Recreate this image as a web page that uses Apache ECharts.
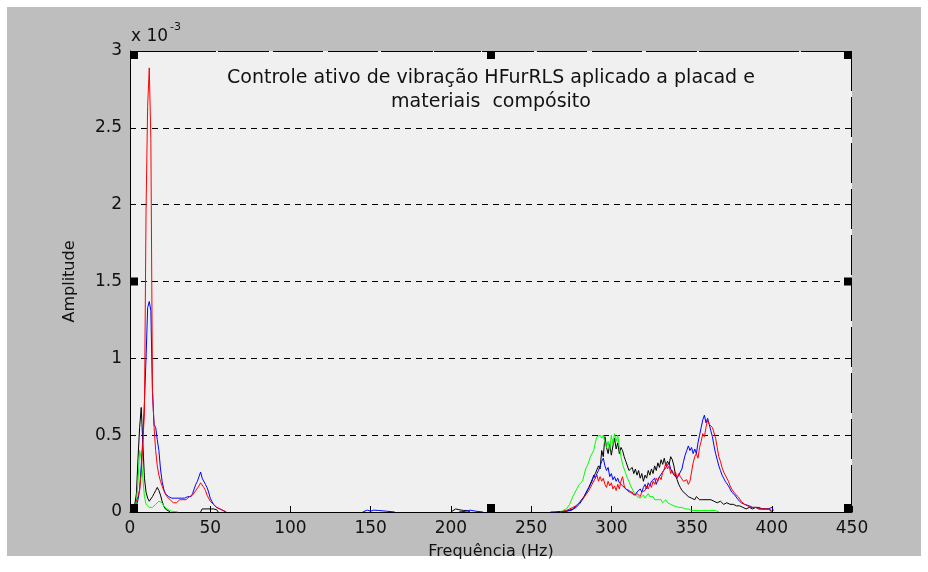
<!DOCTYPE html>
<html>
<head>
<meta charset="utf-8">
<script src="https://cdn.jsdelivr.net/npm/echarts@6/dist/echarts.min.js"></script>
<style>
html,body{margin:0;padding:0;background:#ffffff;width:928px;height:572px;overflow:hidden;}
#bg{position:absolute;left:7px;top:7px;width:914px;height:549px;background:#bebebe;}
#chart{position:absolute;left:0;top:0;width:928px;height:572px;}
</style>
</head>
<body>
<div id="bg"></div>
<div id="chart"></div>
<script>
// Values in units of 1e-3 (axis shows "x 10^-3")
const titleLines = ['Controle ativo de vibração HFurRLS aplicado a placad e', 'materiais  compósito'];
const xName = 'Frequência (Hz)';
const yName = 'Amplitude';
const xTicks = [0, 50, 100, 150, 200, 250, 300, 350, 400, 450];
const yTicks = [0, 0.5, 1, 1.5, 2, 2.5, 3];

const redFreq = [0,1,2,3,4,5,6,7,8,9,10,11,12,13,14,15,16,17,18,19,20,21,22,23,24,25,26,27,28,29,30,31,32,33,34,35,36,37,38,39,40,41,42,43,44,45,46,47,48,49,50,51,52,53,54,55,56,57,58,60,
 null,
 268,270,272,274,276,278,280,282,284,286,288,290,291,292,293,294,295,296,297,298,299,300,301,302,303,304,305,306,307,308,309,310,311,312,313,314,315,316,317,318,319,320,321,322,323,324,325,326,327,328,329,330,331,332,333,334,335,336,337,338,339,340,341,342,343,344,345,346,347,348,349,350,351,352,353,354,355,356,357,358,359,360,361,362,363,364,365,366,367,368,369,370,371,372,373,374,375,376,377,378,379,380,381,382,383,384,385,386,387,388,390,392,394,396,398,400];
const redAmp = [0.02,0.03,0.04,0.05,0.07,0.1,0.14,0.25,0.45,0.65,1.96,2.64,2.89,2.43,0.8,0.55,0.4,0.3,0.24,0.2,0.17,0.14,0.12,0.1,0.09,0.08,0.07,0.06,0.07,0.06,0.07,0.08,0.07,0.08,0.09,0.08,0.09,0.1,0.1,0.11,0.12,0.14,0.15,0.17,0.19,0.18,0.16,0.14,0.11,0.09,0.07,0.06,0.05,0.04,0.03,0.02,0.02,0.01,0.01,0,
 null,
 0,0.005,0.01,0.02,0.03,0.04,0.06,0.08,0.11,0.14,0.18,0.22,0.24,0.2,0.23,0.2,0.22,0.18,0.16,0.2,0.17,0.19,0.15,0.17,0.14,0.18,0.15,0.2,0.23,0.17,0.15,0.14,0.13,0.12,0.13,0.11,0.1,0.12,0.11,0.1,0.13,0.12,0.14,0.17,0.15,0.18,0.16,0.2,0.18,0.22,0.2,0.23,0.21,0.26,0.28,0.32,0.28,0.3,0.25,0.27,0.24,0.26,0.22,0.25,0.23,0.24,0.2,0.19,0.21,0.18,0.2,0.26,0.32,0.36,0.38,0.35,0.42,0.46,0.51,0.49,0.55,0.6,0.57,0.58,0.55,0.56,0.48,0.42,0.36,0.33,0.29,0.26,0.24,0.22,0.2,0.17,0.15,0.14,0.12,0.11,0.1,0.09,0.07,0.06,0.05,0.05,0.04,0.04,0.03,0.03,0.03,0.02,0.02,0.02,0.02,0.01];

const blueFreq = [0,2,4,5,6,7,8,9,10,11,12,13,14,15,16,17,18,19,20,21,22,23,24,25,26,27,28,29,30,31,32,33,34,35,36,37,38,39,40,41,42,43,44,45,46,47,48,49,50,51,52,53,54,55,56,58,60,
 null,
 145,148,150,152,155,160,165,
 null,
 205,210,212,215,220,
 null,
 262,270,275,278,280,282,284,286,288,289,290,291,292,293,294,295,296,297,298,299,300,301,302,303,304,305,306,307,308,309,310,311,312,313,314,315,316,317,318,319,320,321,322,323,324,325,326,327,328,329,330,331,332,333,334,335,336,337,338,339,340,341,342,343,344,345,346,347,348,349,350,351,352,353,354,355,356,357,358,359,360,361,362,363,364,365,366,367,368,369,370,371,372,373,374,375,376,377,378,379,380,381,382,383,384,386,388,390,392,394,396,398,400,401];
const blueAmp = [0.01,0.02,0.04,0.08,0.15,0.3,0.48,0.72,1.0,1.33,1.37,1.31,0.78,0.57,0.55,0.47,0.4,0.28,0.2,0.15,0.12,0.11,0.1,0.11,0.09,0.1,0.09,0.08,0.09,0.08,0.09,0.08,0.09,0.08,0.1,0.09,0.1,0.12,0.15,0.18,0.2,0.23,0.26,0.22,0.21,0.18,0.16,0.13,0.09,0.07,0.05,0.04,0.03,0.02,0.02,0.01,0,
 null,
 0,0.012,0.005,0.012,0.01,0.005,0,
 null,
 0,0.006,0.012,0.006,0,
 null,
 0,0.003,0.01,0.03,0.05,0.08,0.12,0.16,0.2,0.24,0.22,0.25,0.27,0.3,0.33,0.35,0.3,0.27,0.29,0.23,0.25,0.21,0.23,0.2,0.22,0.19,0.2,0.17,0.18,0.15,0.16,0.14,0.13,0.12,0.12,0.11,0.13,0.12,0.15,0.13,0.16,0.18,0.15,0.19,0.17,0.2,0.19,0.22,0.18,0.21,0.23,0.22,0.26,0.25,0.29,0.3,0.32,0.28,0.27,0.24,0.25,0.22,0.24,0.23,0.28,0.33,0.37,0.4,0.43,0.4,0.42,0.38,0.41,0.38,0.45,0.5,0.55,0.6,0.63,0.58,0.61,0.57,0.53,0.49,0.43,0.38,0.34,0.3,0.27,0.24,0.22,0.2,0.19,0.17,0.15,0.13,0.12,0.11,0.1,0.08,0.07,0.06,0.05,0.05,0.04,0.04,0.03,0.03,0.03,0.02,0.02,0.02,0.03,0.01];

const blackFreq = [0,2,3,4,5,6,7,8,9,10,11,12,13,14,15,16,17,18,19,20,21,22,23,25,
 null,
 44,45,46,50,52,54,55,
 null,
 200,203,205,208,210,212,
 null,
 266,272,276,280,283,286,288,290,292,293,294,295,296,297,298,299,300,301,302,303,304,305,306,307,308,309,310,311,312,313,314,315,316,317,318,319,320,321,322,323,324,325,326,327,328,329,330,331,332,333,334,335,336,337,338,339,340,341,342,343,344,345,346,347,348,349,350,351,352,353,354,355,356,357,358,359,360,362,364,366,368,370,372,374,376,378,380,382,384,386,388,390,392,394,396,398,399,400];
const blackAmp = [0,0.01,0.05,0.12,0.35,0.55,0.68,0.45,0.22,0.13,0.09,0.07,0.08,0.1,0.12,0.14,0.16,0.14,0.11,0.07,0.04,0.02,0.01,0,
 null,
 0,0.02,0.02,0.02,0.02,0.015,0,
 null,
 0,0.02,0.015,0.01,0.01,0,
 null,
 0,0.005,0.02,0.06,0.1,0.16,0.21,0.25,0.3,0.28,0.4,0.36,0.49,0.42,0.38,0.44,0.37,0.43,0.48,0.41,0.45,0.38,0.42,0.4,0.36,0.33,0.3,0.27,0.26,0.29,0.25,0.28,0.24,0.27,0.22,0.25,0.2,0.24,0.22,0.27,0.24,0.28,0.25,0.3,0.27,0.32,0.29,0.34,0.31,0.35,0.3,0.33,0.31,0.36,0.34,0.3,0.24,0.21,0.18,0.16,0.14,0.13,0.12,0.11,0.1,0.11,0.09,0.1,0.08,0.1,0.09,0.08,0.09,0.08,0.09,0.08,0.07,0.08,0.07,0.06,0.07,0.05,0.06,0.05,0.05,0.04,0.04,0.03,0.02,0.03,0.02,0.03,0.02,0.02,0.02,0.02,0.01,0];

const greenFreq = [0,3,4,5,6,7,8,9,10,11,12,13,14,15,16,17,18,19,20,21,22,23,24,26,30,
 null,
 268,272,274,276,278,280,282,284,285,286,287,288,289,290,291,292,293,294,295,296,297,298,299,300,301,302,303,304,305,306,307,308,309,310,311,312,313,314,315,316,317,318,319,320,321,322,323,324,325,326,327,328,329,330,331,332,333,334,335,336,337,338,339,340,342,344,346,348,350,355,360,365,367];
const greenAmp = [0,0.02,0.06,0.2,0.4,0.35,0.22,0.1,0.05,0.04,0.03,0.04,0.03,0.04,0.05,0.06,0.07,0.07,0.06,0.04,0.03,0.02,0.01,0.005,0,
 null,
 0,0.02,0.05,0.1,0.14,0.18,0.2,0.28,0.3,0.33,0.36,0.35,0.4,0.45,0.49,0.5,0.5,0.48,0.5,0.45,0.42,0.46,0.4,0.5,0.44,0.51,0.46,0.5,0.42,0.36,0.31,0.28,0.25,0.22,0.2,0.17,0.15,0.13,0.12,0.1,0.11,0.09,0.1,0.11,0.09,0.1,0.12,0.1,0.09,0.1,0.08,0.09,0.08,0.07,0.08,0.06,0.07,0.08,0.06,0.07,0.05,0.05,0.04,0.04,0.03,0.03,0.02,0.02,0.01,0.01,0.01,0.01,0];

function pairs(fs, as) {
  return fs.map((f, i) => (f === null ? [null, null] : [f, as[i]]));
}

const FONT = 'DejaVu Sans';
const chart = echarts.init(document.getElementById('chart'), null, {renderer: 'canvas'});

function mkSeries(name, fs, as, color) {
  return {
    name: name, type: 'line', xAxisIndex: 0, yAxisIndex: 0,
    data: pairs(fs, as), showSymbol: false, symbol: 'none',
    connectNulls: false, silent: true,
    lineStyle: {color: color, width: 1}, itemStyle: {color: color}
  };
}

const option = {
  backgroundColor: 'transparent',
  animation: false,
  grid: {left: 130, top: 51, right: 76, bottom: 60, show: true, backgroundColor: '#f0f0f0', borderWidth: 0},
  xAxis: [
    {type: 'value', min: 0, max: 450, interval: 50, position: 'bottom',
     name: xName, nameLocation: 'middle', nameGap: 32,
     nameTextStyle: {fontFamily: FONT, fontSize: 16, color: '#111'},
     axisLine: {show: true, onZero: false, lineStyle: {color: '#000', width: 1}},
     axisTick: {show: true, inside: true, length: 6, lineStyle: {color: '#000'}},
     axisLabel: {fontFamily: FONT, fontSize: 17, color: '#111', margin: 8},
     splitLine: {show: false}}
  ],
  yAxis: [
    {type: 'value', min: 0, max: 3, interval: 0.5, position: 'left',
     name: yName, nameLocation: 'middle', nameGap: 52, nameRotate: 90,
     nameTextStyle: {fontFamily: FONT, fontSize: 16, color: '#111'},
     axisLine: {show: true, onZero: false, lineStyle: {color: '#000', width: 1}},
     axisTick: {show: true, inside: true, length: 6, lineStyle: {color: '#000'}},
     axisLabel: {fontFamily: FONT, fontSize: 17, color: '#111', margin: 8,
                 formatter: v => String(v)},
     splitLine: {show: true, lineStyle: {color: '#000', width: 1, type: [6, 5]}}}
  ],
  series: [
    mkSeries('black', blackFreq, blackAmp, '#000000'),
    mkSeries('green', greenFreq, greenAmp, '#00ff00'),
    mkSeries('blue', blueFreq, blueAmp, '#0000ff'),
    mkSeries('red', redFreq, redAmp, '#ff0000')
  ]
};
chart.setOption(option);

// Title, exponent label, dashed top/right box edges and black selection handles
const p = (x, y) => chart.convertToPixel({xAxisIndex: 0, yAxisIndex: 0}, [x, y]);
const xMin = xTicks[0], xMax = xTicks[xTicks.length - 1];
const yMin = yTicks[0], yMax = yTicks[yTicks.length - 1];
const xMid = (xMin + xMax) / 2, yMid = (yMin + yMax) / 2;
const topLeft = p(xMin, yMax), botRight = p(xMax, yMin);
const cx = (topLeft[0] + botRight[0]) / 2;

const graphics = [];
graphics.push({type: 'text', x: cx, y: topLeft[1] + 15, z: 10,
  style: {text: titleLines.join('\n'), fill: '#111', font: '19px "' + FONT + '"', textAlign: 'center', lineHeight: 24}});
graphics.push({type: 'text', x: topLeft[0] + 1, y: topLeft[1] - 23, z: 10,
  style: {text: 'x 10', fill: '#111', font: '17px "' + FONT + '"'}});
graphics.push({type: 'text', x: topLeft[0] + 40, y: topLeft[1] - 29, z: 10,
  style: {text: '-3', fill: '#111', font: '11px "' + FONT + '"'}});

const tY = Math.round(topLeft[1]) + 0.5;
const rX = Math.round(botRight[0]) - 0.5;
graphics.push({type: 'polyline', z: 15,
  shape: {points: [[topLeft[0], tY], [botRight[0], tY]]},
  style: {stroke: '#000', lineWidth: 1, fill: null, lineDash: [47, 6], lineDashOffset: 14}});
graphics.push({type: 'polyline', z: 15,
  shape: {points: [[rX, topLeft[1]], [rX, botRight[1]]]},
  style: {stroke: '#000', lineWidth: 1, fill: null, lineDash: [40, 6], lineDashOffset: 0}});

const S = 8;
[[xMin, yMax], [xMid, yMax], [xMax, yMax], [xMin, yMid], [xMax, yMid], [xMin, yMin], [xMid, yMin], [xMax, yMin]].forEach(([a, b]) => {
  const q = p(a, b);
  const dx = a === xMin ? 0 : (a === xMax ? -S : -S / 2);
  const dy = b === yMax ? 0 : (b === yMin ? -S : -S / 2);
  graphics.push({type: 'rect', z: 20, shape: {x: q[0] + dx, y: q[1] + dy, width: S, height: S}, style: {fill: '#000'}});
});
chart.setOption({graphic: graphics});
</script>
</body>
</html>
